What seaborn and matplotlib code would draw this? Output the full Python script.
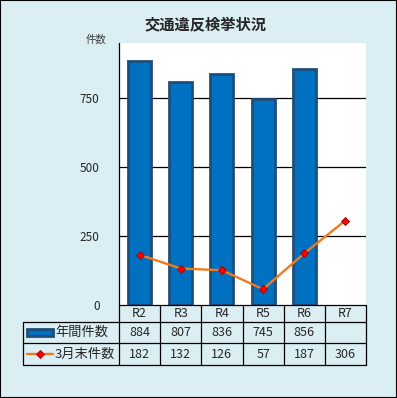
import numpy as np
import pandas as pd
import matplotlib
matplotlib.use("Agg")
import matplotlib.pyplot as plt
import seaborn as sns
from matplotlib.patches import Rectangle
from matplotlib.lines import Line2D

# データ
categories = ["R2", "R3", "R4", "R5", "R6", "R7"]
annual = [884, 807, 836, 745, 856]          # 年間件数 (R7 なし)
march = [182, 132, 126, 57, 187, 306]       # 3月末件数
series_names = ["年間件数", "3月末件数"]
yticks = [0, 250, 500, 750]

sns.set_style("white")
plt.rcParams["font.family"] = ["Noto Sans CJK JP", "DejaVu Sans"]

bg = "#daeef3"
bar_face = "#0070c0"
bar_edge = "#1f4e79"
line_col = "#f07a1e"

fig = plt.figure(figsize=(3.97, 3.98), dpi=100, facecolor=bg)
ax = fig.add_axes([119 / 397, 1 - 305 / 398, 247 / 397, 262 / 398])
ax.set_facecolor("white")

bar_df = pd.DataFrame({"cat": categories[:len(annual)], "val": annual})
sns.barplot(data=bar_df, x="cat", y="val", order=categories, color=bar_face,
            saturation=1, width=0.56, edgecolor=bar_edge, linewidth=2.0, ax=ax)

line_df = pd.DataFrame({"cat": categories, "val": march})
sns.pointplot(data=line_df, x="cat", y="val", order=categories, color=line_col,
              markers="D", linewidth=1.7, markersize=4.5,
              markerfacecolor="#ff0000", markeredgecolor="#a00000",
              markeredgewidth=0.6, ax=ax)

ax.set_xlim(-0.5, len(categories) - 0.5)
ax.set_ylim(0, 949)
ax.set_yticks(yticks)
ax.set_yticklabels([str(t) for t in yticks], fontsize=8.5)
ax.tick_params(axis="y", length=0, pad=14)
ax.set_xticks([])
ax.set_xlabel("")
ax.set_ylabel("")
for t in yticks[1:]:
    ax.axhline(t, color="black", linewidth=0.9, zorder=0.5)
for side in ["top", "right", "bottom"]:
    ax.spines[side].set_visible(False)
ax.spines["left"].set_color("black")
ax.spines["left"].set_linewidth(0.9)

# 表 (データテーブル)
tr = ax.transAxes
ncol = len(categories)
leg_left = (23 - 119) / 247
row_h = [17 / 262, 21 / 262, 22 / 262]
y0 = 0
y1 = -row_h[0]
y2 = y1 - row_h[1]
y3 = y2 - row_h[2]
kw = dict(transform=tr, color="black", linewidth=0.9, clip_on=False)
ax.add_line(Line2D([0, 1], [y0, y0], **kw))
ax.add_line(Line2D([leg_left, 1], [y1, y1], **kw))
ax.add_line(Line2D([leg_left, 1], [y2, y2], **kw))
ax.add_line(Line2D([leg_left, 1], [y3, y3], **kw))
ax.add_line(Line2D([leg_left, leg_left], [y1, y3], **kw))
for i in range(ncol + 1):
    ax.add_line(Line2D([i / ncol, i / ncol], [y0, y3], **kw))

for i, c in enumerate(categories):
    xc = (i + 0.5) / ncol
    ax.text(xc, (y0 + y1) / 2, c, transform=tr, ha="center", va="center", fontsize=9)
    if i < len(annual):
        ax.text(xc, (y1 + y2) / 2, str(annual[i]), transform=tr,
                ha="center", va="center", fontsize=9)
    ax.text(xc, (y2 + y3) / 2, str(march[i]), transform=tr,
            ha="center", va="center", fontsize=9)

# 凡例キー
sx0 = (27 - 119) / 247
sx1 = (53 - 119) / 247
ym1 = (y1 + y2) / 2
ax.add_patch(Rectangle((sx0, ym1 - 3.5 / 262), sx1 - sx0, 7 / 262, transform=tr,
                       facecolor=bar_face, edgecolor=bar_edge, linewidth=2.0,
                       clip_on=False))
ym2 = (y2 + y3) / 2
ax.add_line(Line2D([sx0, sx1], [ym2, ym2], transform=tr, color=line_col,
                   linewidth=1.7, clip_on=False))
ax.add_line(Line2D([(sx0 + sx1) / 2], [ym2], transform=tr, marker="D",
                   markersize=4.5, markerfacecolor="#ff0000",
                   markeredgecolor="#a00000", markeredgewidth=0.6,
                   linestyle="none", clip_on=False))
ax.text((55 - 119) / 247, ym1, series_names[0], transform=tr, ha="left",
        va="center", fontsize=9.5)
ax.text((55 - 119) / 247, ym2, series_names[1], transform=tr, ha="left",
        va="center", fontsize=9.5)

fig.text(206 / 397, 1 - 24 / 398, "交通違反検挙状況", ha="center", va="center",
         fontsize=11, fontweight="bold")
fig.text(96 / 397, 1 - 40 / 398, "件数", ha="center", va="center",
         fontsize=7.5, color="#404040")

fig.add_artist(Rectangle((0, 0), 1, 1, transform=fig.transFigure, fill=False,
                         edgecolor="black", linewidth=1.5))

fig.savefig("out.png", dpi=100, facecolor=bg)
